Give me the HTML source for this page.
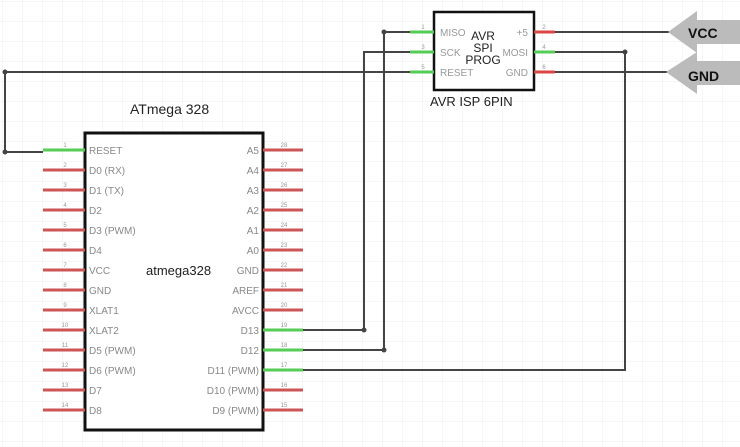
<!DOCTYPE html>
<html><head><style>
body{margin:0;background:#fff;}
svg{display:block;font-family:"Liberation Sans",sans-serif;}
</style></head><body>
<svg width="740" height="447" viewBox="0 0 740 447" xmlns="http://www.w3.org/2000/svg">
<defs>
<pattern id="g" x="3" y="2" width="20" height="20" patternUnits="userSpaceOnUse">
<path d="M20 0V20M0 20H20" stroke="#ececec" stroke-width="1" fill="none"/>
</pattern>
</defs>
<rect width="740" height="447" fill="url(#g)"/>

<!-- wires -->
<g stroke="#444" stroke-width="2" fill="none">
<path d="M410 72H5V152H43"/>
<path d="M410 32H384V350H303"/>
<path d="M410 52H364V330H303"/>
<path d="M555 52H625V370H303"/>
<path d="M555 32H672"/>
<path d="M555 72H672"/>
</g>
<g fill="#444">
<circle cx="5" cy="72" r="2.5"/><circle cx="5" cy="152" r="2.5"/>
<circle cx="384" cy="32" r="2.5"/><circle cx="384" cy="350" r="2.5"/>
<circle cx="364" cy="330" r="2.5"/><circle cx="625" cy="52" r="2.5"/>
</g>

<!-- ATmega -->
<text x="130" y="114" font-size="14" fill="#222">ATmega 328</text>
<rect x="85" y="133" width="178" height="297" fill="#fff" stroke="#111" stroke-width="3"/>
<text x="146" y="275" font-size="13" fill="#222">atmega328</text>
<g stroke-width="3">
<line x1="43" y1="150" x2="85" y2="150" stroke="#5c5"/>
<line x1="43" y1="170" x2="85" y2="170" stroke="#c55"/>
<line x1="43" y1="190" x2="85" y2="190" stroke="#c55"/>
<line x1="43" y1="210" x2="85" y2="210" stroke="#c55"/>
<line x1="43" y1="230" x2="85" y2="230" stroke="#c55"/>
<line x1="43" y1="250" x2="85" y2="250" stroke="#c55"/>
<line x1="43" y1="270" x2="85" y2="270" stroke="#c55"/>
<line x1="43" y1="290" x2="85" y2="290" stroke="#c55"/>
<line x1="43" y1="310" x2="85" y2="310" stroke="#c55"/>
<line x1="43" y1="330" x2="85" y2="330" stroke="#c55"/>
<line x1="43" y1="350" x2="85" y2="350" stroke="#c55"/>
<line x1="43" y1="370" x2="85" y2="370" stroke="#c55"/>
<line x1="43" y1="390" x2="85" y2="390" stroke="#c55"/>
<line x1="43" y1="410" x2="85" y2="410" stroke="#c55"/>
<line x1="263" y1="150" x2="303" y2="150" stroke="#c55"/>
<line x1="263" y1="170" x2="303" y2="170" stroke="#c55"/>
<line x1="263" y1="190" x2="303" y2="190" stroke="#c55"/>
<line x1="263" y1="210" x2="303" y2="210" stroke="#c55"/>
<line x1="263" y1="230" x2="303" y2="230" stroke="#c55"/>
<line x1="263" y1="250" x2="303" y2="250" stroke="#c55"/>
<line x1="263" y1="270" x2="303" y2="270" stroke="#c55"/>
<line x1="263" y1="290" x2="303" y2="290" stroke="#c55"/>
<line x1="263" y1="310" x2="303" y2="310" stroke="#c55"/>
<line x1="263" y1="330" x2="303" y2="330" stroke="#5c5"/>
<line x1="263" y1="350" x2="303" y2="350" stroke="#5c5"/>
<line x1="263" y1="370" x2="303" y2="370" stroke="#5c5"/>
<line x1="263" y1="390" x2="303" y2="390" stroke="#c55"/>
<line x1="263" y1="410" x2="303" y2="410" stroke="#c55"/>
</g>
<g font-size="10" fill="#888">
<text x="89" y="154">RESET</text><text x="89" y="174">D0 (RX)</text><text x="89" y="194">D1 (TX)</text>
<text x="89" y="214">D2</text><text x="89" y="234">D3 (PWM)</text><text x="89" y="254">D4</text>
<text x="89" y="274">VCC</text><text x="89" y="294">GND</text><text x="89" y="314">XLAT1</text>
<text x="89" y="334">XLAT2</text><text x="89" y="354">D5 (PWM)</text><text x="89" y="374">D6 (PWM)</text>
<text x="89" y="394">D7</text><text x="89" y="414">D8</text>
</g>
<g font-size="10" fill="#888" text-anchor="end">
<text x="259" y="154">A5</text><text x="259" y="174">A4</text><text x="259" y="194">A3</text>
<text x="259" y="214">A2</text><text x="259" y="234">A1</text><text x="259" y="254">A0</text>
<text x="259" y="274">GND</text><text x="259" y="294">AREF</text><text x="259" y="314">AVCC</text>
<text x="259" y="334">D13</text><text x="259" y="354">D12</text><text x="259" y="374">D11 (PWM)</text>
<text x="259" y="394">D10 (PWM)</text><text x="259" y="414">D9 (PWM)</text>
</g>
<g font-size="6" fill="#999" text-anchor="middle">
<text x="65" y="147">1</text><text x="65" y="167">2</text><text x="65" y="187">3</text><text x="65" y="207">4</text>
<text x="65" y="227">5</text><text x="65" y="247">6</text><text x="65" y="267">7</text><text x="65" y="287">8</text>
<text x="65" y="307">9</text><text x="65" y="327">10</text><text x="65" y="347">11</text><text x="65" y="367">12</text>
<text x="65" y="387">13</text><text x="65" y="407">14</text>
<text x="284" y="147">28</text><text x="284" y="167">27</text><text x="284" y="187">26</text><text x="284" y="207">25</text>
<text x="284" y="227">24</text><text x="284" y="247">23</text><text x="284" y="267">22</text><text x="284" y="287">21</text>
<text x="284" y="307">20</text><text x="284" y="327">19</text><text x="284" y="347">18</text><text x="284" y="367">17</text>
<text x="284" y="387">16</text><text x="284" y="407">15</text>
</g>

<!-- ISP -->
<rect x="434" y="12" width="100" height="78" fill="#fff" stroke="#111" stroke-width="2.5"/>
<g stroke-width="3">
<line x1="410" y1="32" x2="434" y2="32" stroke="#5c5"/>
<line x1="410" y1="52" x2="434" y2="52" stroke="#5c5"/>
<line x1="410" y1="72" x2="434" y2="72" stroke="#5c5"/>
<line x1="534" y1="32" x2="555" y2="32" stroke="#d44"/>
<line x1="534" y1="52" x2="555" y2="52" stroke="#5c5"/>
<line x1="534" y1="72" x2="555" y2="72" stroke="#d44"/>
</g>
<g font-size="10" fill="#999">
<text x="440" y="36">MISO</text><text x="440" y="56">SCK</text><text x="440" y="76">RESET</text>
</g>
<g font-size="10" fill="#999" text-anchor="end">
<text x="528" y="36">+5</text><text x="528" y="56">MOSI</text><text x="528" y="76">GND</text>
</g>
<g font-size="12" fill="#222" text-anchor="middle">
<text x="483" y="40">AVR</text><text x="483" y="52">SPI</text><text x="483" y="64">PROG</text>
</g>
<text x="430" y="106" font-size="13" fill="#222">AVR ISP 6PIN</text>
<g font-size="6" fill="#999" text-anchor="middle">
<text x="423" y="29">1</text><text x="423" y="49">3</text><text x="423" y="69">5</text>
<text x="544" y="29">2</text><text x="544" y="49">4</text><text x="544" y="69">6</text>
</g>

<!-- flags -->
<polygon points="668,32 697,11 697,20 740,20 740,44 697,44 697,53" fill="#bbb"/>
<polygon points="666,72 697,52 697,61 740,61 740,85 697,85 697,94" fill="#bbb"/>
<text x="688" y="38" font-size="14" font-weight="bold" fill="#111">VCC</text>
<text x="688" y="81" font-size="14" font-weight="bold" fill="#111">GND</text>
</svg>
</body></html>
